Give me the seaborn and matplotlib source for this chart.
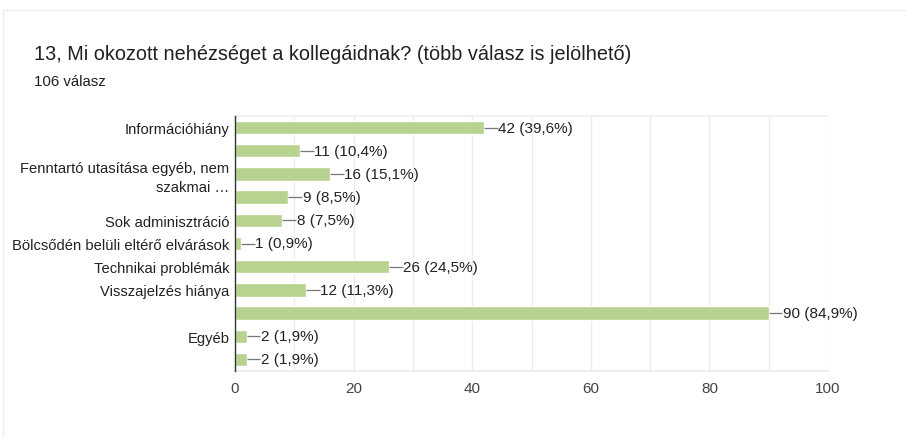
import matplotlib
matplotlib.use("Agg")
import matplotlib.pyplot as plt
import seaborn as sns
import pandas as pd
from matplotlib.patches import Rectangle

# Survey answers (106 respondents, multiple choice allowed)
labels = [
    "Információhiány",
    "",
    "Fenntartó utasítása egyéb, nem\nszakmai …",
    "",
    "Sok adminisztráció",
    "Bölcsődén belüli eltérő elvárások",
    "Technikai problémák",
    "Visszajelzés hiánya",
    "",
    "Egyéb",
    "",
]
counts = [42, 11, 16, 9, 8, 1, 26, 12, 90, 2, 2]
total = 106
x_ticks = [0, 20, 40, 60, 80, 100]

title = "13, Mi okozott nehézséget a kollegáidnak? (több válasz is jelölhető)"
subtitle = "106 válasz"

df = pd.DataFrame({
    "row": [f"r{i}" for i in range(len(counts))],
    "count": counts,
})

sns.set_theme(style="white")
plt.rcParams["font.family"] = ["Liberation Sans", "DejaVu Sans"]

fig = plt.figure(figsize=(9.06, 4.39), dpi=100)
fig.patch.set_facecolor("white")

# card outline
card = Rectangle((3 / 906, -0.05), 1.1, 1 - 11 / 439 + 0.05,
                 transform=fig.transFigure, facecolor="none",
                 edgecolor="#ececec", linewidth=1.0, zorder=-5)
fig.patches.append(card)

ax = fig.add_axes([235 / 906, 1 - 372 / 439, (828 - 235) / 906, (372 - 117) / 439])
ax.set_facecolor("none")

bar_color = "#b7d38f"
sns.barplot(data=df, y="row", x="count", orient="h", color=bar_color,
            saturation=1, width=0.58, ax=ax, zorder=2)

ax.set_xlim(0, 100)
ax.set_ylim(len(counts) - 0.5, -0.5)
ax.set_xticks(x_ticks)
ax.set_xticks(range(10, 100, 20), minor=True)
ax.set_xticklabels([str(t) for t in x_ticks], fontsize=11, color="#444444")
ax.set_yticks(range(len(labels)))
ax.set_yticklabels(labels, fontsize=10.6, color="#222222", linespacing=1.45)
ax.tick_params(axis="both", which="both", length=0, pad=4)
ax.tick_params(axis="x", pad=7.5)
ax.set_xlabel("")
ax.set_ylabel("")

ax.grid(axis="x", which="both", color="#ebebeb", linewidth=1.0, zorder=0)
ax.spines["right"].set_visible(False)
ax.spines["top"].set_color("#f0f0f0")
ax.spines["bottom"].set_color("#ebebeb")
ax.spines["left"].set_color("#333333")
ax.spines["left"].set_linewidth(1.0)
ax.spines["left"].set_zorder(3)

# value labels with a short leader line
for i, c in enumerate(counts):
    pct = f"{c / total * 100:.1f}".replace(".", ",")
    ax.plot([c, c + 2.3], [i, i], color="#777777", linewidth=0.9, zorder=3,
            solid_capstyle="butt")
    ax.text(c + 2.4, i, f"{c} ({pct}%)", va="center", ha="left",
            fontsize=11, color="#222222")

fig.text(34 / 906, 1 - 55 / 439, title, fontsize=14.3, color="#202124",
         va="center", ha="left")
fig.text(34 / 906, 1 - 82 / 439, subtitle, fontsize=10.8, color="#202124",
         va="center", ha="left")

fig.savefig("out.png", dpi=100, facecolor="white")
